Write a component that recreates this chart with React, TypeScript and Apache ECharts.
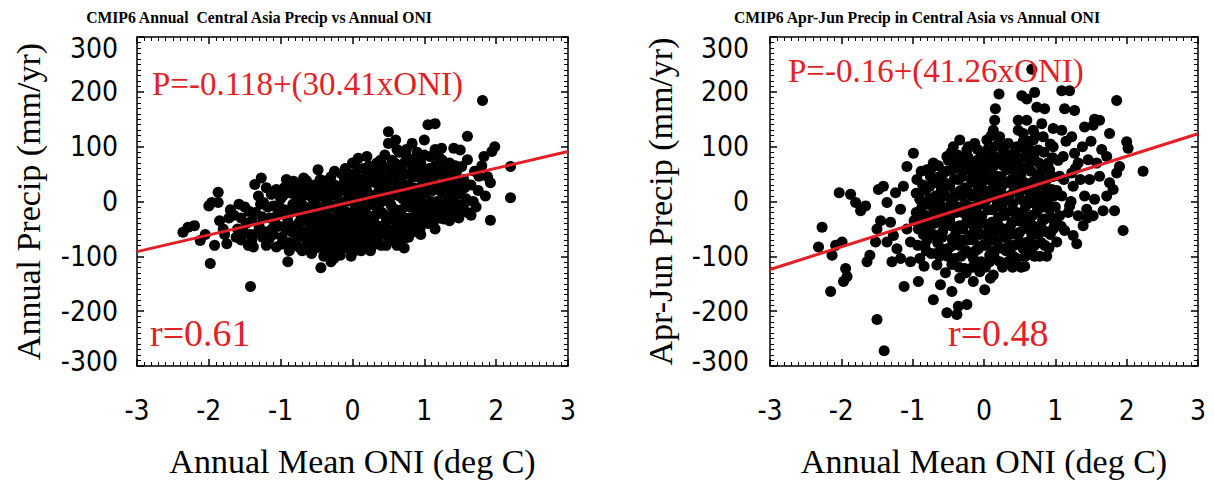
import React, { useEffect, useRef } from "react";
import * as echarts from "echarts";

// ---------- data ----------
const titles = [
  "CMIP6 Annual  Central Asia Precip vs Annual ONI",
  "CMIP6 Apr-Jun Precip in Central Asia vs Annual ONI",
];
const yTitles = ["Annual Precip (mm/yr)", "Apr-Jun Precip (mm/yr)"];
const xTitle = "Annual Mean ONI (deg C)";
const intercepts = [-0.118, -0.16];
const slopes = [30.41, 41.26];
const eqLabels = ["P=-0.118+(30.41xONI)", "P=-0.16+(41.26xONI)"];
const rLabels = ["r=0.61", "r=0.48"];
const xRange = [-3, 3];
const yRange = [-300, 300];

// Annual precip anomaly (mm/yr) vs annual ONI
const annualPoints: number[][] = [
  [-2.36,-56],[-2.29,-47],[-2.2,-44],[-2.12,-71],[-2.05,-60],[-2.0,-8],[-1.96,-2],[-1.98,-113],
  [-1.87,17],[-1.87,-2],[-1.92,-80],[-1.75,-77],[-1.8,-50],[-1.85,-35],[-1.72,-30],[-1.78,-60],[-1.7,-15],
  [-1.65,-25],[-1.6,-50],[-1.55,-70],[-1.5,-10],[-1.48,-40],[-1.45,-80],[-1.42,-155],[-1.42,-60],[-1.58,-5],[-1.62,-65],
  [-1.38,-83],[-1.36,31],[-1.31,10],[-1.27,43],[-1.35,-20],[-1.3,-45],[-1.25,-65],[-1.2,-80],[-1.15,-30],[-1.13,13],[-1.18,-10],[-1.22,-55],[-1.12,-50],[-1.28,-5],
  [-1.06,22],[-1.06,-83],[-0.92,40],[-0.82,37],[-1.0,5],[-0.95,-15],[-0.9,-35],[-0.85,-55],[-0.88,-75],[-1.02,-45],[-0.98,-65],[-0.9,-110],[-0.85,15],[-0.95,25],[-0.83,-5],[-1.05,-25],[-0.82,-80],
  [-0.68,43],[-0.75,30],[-0.7,15],[-0.78,0],[-0.65,-10],[-0.72,-25],[-0.6,-40],[-0.75,-50],[-0.66,-65],[-0.58,-80],[-0.7,-90],[-0.62,25],[-0.55,5],[-0.55,-20],[-0.52,-55],[-0.78,-70],[-0.57,-95],
  [-0.48,58],[-0.44,-121],[-0.45,40],[-0.4,20],[-0.48,10],[-0.35,0],[-0.42,-15],[-0.3,-30],[-0.45,-35],[-0.38,-50],[-0.28,-60],[-0.46,-70],[-0.35,-80],[-0.26,-104],[-0.3,45],[-0.25,30],[-0.22,10],[-0.32,-90],[-0.2,-45],[-0.22,-75],[-0.4,-100],
  [-0.17,-98],[-0.1,60],[0.0,70],[0.08,79],[-0.15,50],[-0.05,35],[0.05,45],[-0.12,20],[0.02,15],[-0.08,0],[0.06,-5],[-0.15,-15],[0.0,-25],[-0.1,-40],[0.08,-35],[-0.03,-55],[-0.15,-65],[0.05,-70],[-0.08,-85],[0.1,-55],[0.1,25],[-0.18,-30],[0.03,-90],
  [0.2,82],[0.34,70],[0.15,60],[0.25,50],[0.38,55],[0.12,40],[0.3,35],[0.2,20],[0.35,15],[0.15,5],[0.28,-5],[0.4,0],[0.18,-20],[0.32,-25],[0.22,-40],[0.38,-45],[0.15,-50],[0.28,-60],[0.2,-75],[0.35,-70],[0.25,-90],[0.4,-80],[0.12,-90],
  [0.5,127],[0.6,112],[0.5,106],[0.45,85],[0.55,75],[0.65,90],[0.42,65],[0.6,60],[0.5,45],[0.68,40],[0.45,30],[0.58,25],[0.65,10],[0.48,5],[0.55,-10],[0.68,-15],[0.45,-25],[0.6,-35],[0.5,-50],[0.65,-55],[0.55,-70],[0.45,-60],[0.62,-80],[0.7,-70],
  [0.83,106],[0.75,95],[0.88,80],[0.72,70],[0.85,60],[0.95,70],[0.78,50],[0.9,45],[0.72,30],[0.85,25],[0.97,30],[0.78,10],[0.92,5],[0.75,-5],[0.88,-15],[0.98,-10],[0.8,-30],[0.93,-35],[0.75,-45],[0.86,-55],[0.95,-60],[0.78,-65],[0.72,-85],
  [1.0,112],[1.05,140],[1.15,142],[1.24,97],[1.08,82],[1.15,65],[1.02,55],[1.25,75],[1.2,50],[1.08,35],[1.28,40],[1.12,20],[1.02,15],[1.25,15],[1.18,0],[1.05,-10],[1.28,-10],[1.1,-25],[1.22,-30],[1.27,-32],[1.05,-40],[1.15,-50],
  [1.41,97],[1.5,94],[1.52,64],[1.6,76],[1.35,70],[1.45,55],[1.38,40],[1.55,40],[1.42,25],[1.35,10],[1.5,15],[1.58,5],[1.45,-5],[1.52,-14],[1.38,-20],[1.6,-20],[1.48,-30],[1.6,119],[1.35,-35],
  [1.81,184],[1.83,82],[1.98,100],[1.94,91],[1.76,46],[1.92,34],[1.7,55],[1.65,30],[1.75,20],[1.68,0],[1.85,10],[1.72,-10],[1.92,-34],[2.2,64],[2.2,7],[1.8,65],[1.88,45],[1.65,-25],
  [-1.55,-30],[-1.52,-55],[-1.44,-18],[-1.4,-35],[-1.4,-70],[-1.33,-58],[-1.26,-28],[-1.24,-2],[-1.2,25],[-1.16,-68],[-1.1,-8],[-1.1,-60],[-1.08,-38],[-1.02,-10],[-0.99,-78],[-0.97,10],[-0.93,-50],[-0.92,-25],[-0.88,-90],[-0.87,25],[-0.86,-20],[-0.8,-45],[-0.79,-15],[-0.77,18],[-0.73,-85],[-0.72,5],[-0.7,-35],[-0.67,-55],[-0.64,38],[-0.63,-75],[-0.6,-20],[-0.59,10],[-0.56,-65],[-0.53,30],[-0.52,-5],[-0.5,-85],[-0.5,-40],[-0.47,-10],[-0.43,-55],[-0.42,30],[-0.4,-85],[-0.38,5],[-0.37,-25],[-0.33,-65],[-0.33,20],[-0.3,-110],[-0.28,-40],[-0.27,-8],[-0.25,55],[-0.24,-88],[-0.2,-55],[-0.19,25],[-0.18,-10],[-0.13,-80],[-0.12,-50],[-0.11,40],[-0.07,-20],[-0.06,-70],[-0.04,10],[-0.02,-100],[0.0,50],[0.02,-40],[0.04,-10],[0.07,-80],[0.08,60],[0.09,5],[0.12,-25],[0.13,-65],[0.14,25],[0.17,-40],[0.18,45],[0.2,-8],[0.22,-60],[0.23,65],[0.25,-28],[0.27,10],[0.28,-80],[0.3,55],[0.31,-45],[0.33,-10],[0.36,30],[0.37,-60],[0.39,75],[0.41,-20],[0.43,45],[0.44,-45],[0.47,-80],[0.48,20],[0.5,-30],[0.52,60],[0.53,-5],[0.57,-55],[0.58,45],[0.6,-15],[0.62,95],[0.63,-70],[0.64,30],[0.67,-40],[0.7,55],[0.7,5],[0.73,-30],[0.74,85],[0.76,-55],[0.77,30],[0.8,-10],[0.81,70],[0.83,-45],[0.84,45],[0.87,0],[0.9,-30],[0.9,90],[0.92,20],[0.94,-50],[0.96,50],[0.99,-25],[1.0,85],[1.03,-5],[1.04,30],[1.07,60],[1.1,0],[1.12,-40],[1.13,45],[1.15,95],[1.17,-15],[1.2,25],[1.22,60],[1.26,-20],[1.3,55],[1.32,0],[1.33,25],[1.4,-10],[1.43,65],[1.47,35],[1.55,-5],[1.56,25],
  [-0.76,-62],[-0.74,-38],[-0.69,-8],[-0.66,20],[-0.61,-58],[-0.58,-30],[-0.54,-42],[-0.51,18],[-0.49,-60],[-0.46,-22],[-0.41,-40],[-0.39,-70],[-0.36,38],[-0.34,-12],[-0.31,-52],[-0.29,12],[-0.26,-32],[-0.23,-62],[-0.21,-20],[-0.17,0],[-0.16,-45],[-0.14,30],[-0.09,-60],[-0.07,15],[-0.05,-35],[-0.01,-75],[0.01,30],[0.03,-58],[0.06,-22],[0.1,-40],[0.11,10],[0.14,-75],[0.16,-10],[0.19,30],[0.21,-50],[0.24,0],[0.26,40],[0.29,-35],[0.32,-70],[0.34,45],[0.37,-5],[0.4,-55],[0.42,15],[0.46,-40],[0.49,35],[0.51,-65],[0.54,10],[0.56,-25],[0.59,70],[0.61,-50],[0.63,45],[0.66,-30],[0.69,15],[0.71,-50],[0.74,50],[0.79,-45],[0.82,15],[0.86,-30],[0.89,60],[0.91,-10],[0.95,10],[0.97,-40],[1.01,40],[1.06,-25],[1.09,55],[1.11,-10],[1.14,30],[1.19,-30],[1.21,80],[1.24,-5],[1.3,30],[1.33,-20],[1.36,55],[1.44,10],[1.47,-20],
];

// Apr-Jun precip anomaly (mm/yr) vs annual ONI
const aprJunPoints: number[][] = [
  [-2.32,-83],[-2.27,-47],[-2.15,-164],[-2.13,-98],[-2.08,-80],[-2.03,16],[-1.99,-74],[-1.94,-122],[-1.92,-137],[-1.97,-146],
  [-1.87,13],[-1.8,-2],[-1.73,-17],[-1.66,-8],[-1.64,-110],[-1.6,-98],[-1.5,-50],[-1.52,-74],[-1.45,-35],[-1.5,-215],[-1.48,22],
  [-1.4,-272],[-1.41,28],[-1.36,-2],[-1.31,-38],[-1.27,-62],[-1.22,-86],[-1.17,-104],[-1.12,-155],[-1.08,64],[-0.99,88],[-1.24,16],[-1.17,-14],[-1.08,-50],[-1.03,-74],[-1.13,28],[-1.03,-110],[-1.36,-74],[-1.29,-110],
  [-0.92,-146],[-0.94,40],[-0.9,4],[-0.85,-26],[-0.92,-50],[-0.83,-80],[-0.9,-104],[-0.8,58],[-0.71,70],[-0.66,34],[-0.73,-8],[-0.62,-38],[-0.69,-62],[-0.59,-86],[-0.66,-116],[-0.71,-179],[-0.61,-152],[-0.55,10],[-0.57,52],[-0.76,28],[-0.8,-26],[-0.52,82],[-0.78,-56],
  [-0.45,-164],[-0.36,-191],[-0.52,-203],[-0.38,-206],[-0.24,-188],[-0.15,-146],[-0.43,100],[-0.34,112],[-0.24,94],[-0.13,106],[-0.45,58],[-0.34,70],[-0.2,58],[-0.08,76],[-0.48,28],[-0.36,40],[-0.24,22],[-0.13,34],[-0.43,-2],[-0.31,10],[-0.2,-14],[-0.08,4],[-0.48,-32],[-0.34,-44],[-0.22,-26],[-0.1,-50],[-0.45,-68],[-0.34,-80],[-0.2,-62],[-0.08,-86],[-0.41,-104],[-0.27,-122],[-0.15,-104],[-0.34,-140],[-0.06,-128],
  [0.01,-161],[0.21,196],[0.16,169],[0.15,148],[0.13,130],[0.04,112],[0.22,118],[0.34,106],[-0.01,88],[0.13,82],[0.27,88],[0.39,76],[0.04,58],[0.18,46],[0.32,58],[-0.03,34],[0.11,22],[0.25,28],[0.36,34],[0.04,4],[0.18,-8],[0.32,4],[-0.03,-26],[0.11,-38],[0.25,-26],[0.39,-38],[0.04,-62],[0.18,-74],[0.32,-56],[0.08,-98],[0.22,-110],[0.36,-92],[0.13,-134],
  [0.67,241],[0.53,193],[0.6,187],[0.71,199],[0.74,172],[0.85,169],[0.48,148],[0.6,148],[0.81,142],[0.55,124],[0.69,112],[0.83,118],[0.46,100],[0.6,88],[0.76,94],[0.5,64],[0.64,70],[0.81,58],[0.46,40],[0.6,28],[0.74,40],[0.85,28],[0.5,4],[0.67,-2],[0.81,10],[0.46,-20],[0.6,-32],[0.74,-20],[0.85,-32],[0.5,-56],[0.67,-62],[0.81,-50],[0.55,-86],[0.71,-80],[0.85,-80],[0.57,-118],[0.46,-104],
  [1.09,202],[1.2,202],[1.13,169],[1.27,166],[0.97,133],[1.09,130],[1.23,118],[0.97,100],[1.11,82],[1.27,88],[0.92,58],[1.06,46],[1.23,52],[1.32,70],[0.95,22],[1.09,10],[1.25,28],[0.92,-14],[1.06,-26],[1.2,-8],[1.32,-26],[0.97,-50],[1.13,-53],[1.25,-62],[1.3,-77],[1.02,-74],
  [1.41,136],[1.53,139],[1.62,148],[1.76,124],[1.86,184],[2.0,109],[2.02,97],[2.23,55],[1.95,-53],[1.83,-17],[1.67,-17],[1.53,-26],[1.46,76],[1.58,70],[1.72,82],[1.86,52],[1.9,64],[1.48,40],[1.62,46],[1.76,34],[1.41,10],[1.55,4],[1.72,10],[1.44,-14],[1.39,-44],[1.81,22],
  [-0.6,20],[-0.5,-10],[-0.4,60],[-0.3,-20],[-0.28,80],[-0.18,40],[-0.1,-10],[-0.05,60],[0.0,-40],[0.07,40],[0.1,-70],[0.15,100],[0.2,10],[0.27,-50],[0.3,70],[0.35,-80],[0.42,20],[0.45,-60],[0.52,50],[0.55,110],[0.58,-10],[0.65,-40],[0.7,80],[0.72,10],[0.78,-100],[0.8,-10],[0.9,70],[0.95,-30],[-0.7,-40],[-0.62,-100],[-0.25,-90],[0.02,-120],[0.4,-120],[-0.85,-60],[-0.95,-20],[0.62,20],[0.25,-10],[-0.15,-70],[-0.4,-60],[0.88,40],[1.0,-10],[0.1,120],[-0.22,80],[0.48,130],
  [-0.98,-35],[-0.95,15],[-0.93,-80],[-0.88,55],[-0.87,-10],[-0.84,-118],[-0.82,20],[-0.8,-70],[-0.77,-5],[-0.75,45],[-0.74,-95],[-0.72,-30],[-0.68,10],[-0.65,-75],[-0.64,65],[-0.6,-15],[-0.58,-55],[-0.56,35],[-0.54,-130],[-0.53,-30],[-0.5,75],[-0.49,-85],[-0.47,5],[-0.45,-115],[-0.44,-45],[-0.42,40],[-0.39,-20],[-0.37,85],[-0.36,-75],[-0.33,20],[-0.32,-100],[-0.3,-50],[-0.29,55],[-0.26,-5],[-0.25,-130],[-0.23,-70],[-0.21,70],[-0.19,-40],[-0.17,10],[-0.16,-120],[-0.14,55],[-0.12,-90],[-0.11,-25],[-0.09,95],[-0.07,20],[-0.05,-60],[-0.04,-110],[-0.02,45],[0.0,-5],[0.02,75],[0.03,-80],[0.06,-45],[0.07,10],[0.09,-140],[0.1,60],[0.12,-15],[0.14,-100],[0.16,30],[0.17,-55],[0.19,80],[0.2,-30],[0.23,-85],[0.24,45],[0.26,5],[0.28,-65],[0.29,100],[0.31,-20],[0.33,35],[0.34,-110],[0.37,-45],[0.38,60],[0.4,-5],[0.42,-80],[0.43,90],[0.44,45],[0.47,-35],[0.49,15],[0.51,-75],[0.52,80],[0.54,-20],[0.56,35],[0.58,-100],[0.6,110],[0.62,-50],[0.63,5],[0.66,55],[0.68,-25],[0.69,130],[0.71,-100],[0.73,25],[0.76,-60],[0.77,70],[0.79,0],[0.82,-35],[0.84,90],[0.87,-55],[0.89,15],[0.91,-85],[0.93,105],[0.96,45],[0.99,-40],[1.02,20],[1.04,75],[1.08,-45],[1.12,40],[1.15,110],[1.18,-20],[1.22,0],[1.28,60],[1.35,40],[1.38,100],[1.45,-30],[1.5,110],[1.55,150],[1.65,95],
  [-0.89,-40],[-0.86,30],[-0.81,-90],[-0.79,-45],[-0.76,5],[-0.74,60],[-0.71,-60],[-0.69,-20],[-0.67,-95],[-0.63,45],[-0.62,-5],[-0.59,-65],[-0.57,15],[-0.55,-45],[-0.53,55],[-0.51,-100],[-0.47,-20],[-0.46,90],[-0.44,-80],[-0.41,15],[-0.39,-50],[-0.38,70],[-0.35,-120],[-0.33,-10],[-0.31,45],[-0.28,-70],[-0.27,25],[-0.24,-35],[-0.22,100],[-0.2,-95],[-0.18,-10],[-0.16,70],[-0.14,-55],[-0.12,15],[-0.1,-115],[-0.08,50],[-0.06,-35],[-0.04,80],[-0.02,-80],[0.0,20],[0.02,-60],[0.05,95],[0.06,-15],[0.08,-110],[0.09,40],[0.12,-50],[0.14,65],[0.15,-90],[0.17,5],[0.2,105],[0.21,-45],[0.23,20],[0.26,-120],[0.27,65],[0.29,-25],[0.31,-90],[0.33,85],[0.35,10],[0.37,-60],[0.39,40],[0.41,-100],[0.43,-20],[0.45,70],[0.48,-60],[0.5,30],[0.52,-120],[0.53,100],[0.56,-40],[0.57,60],[0.59,-75],[0.62,0],[0.64,95],[0.66,-90],[0.68,35],[0.7,-45],[0.72,120],[0.75,-15],[0.78,50],[0.8,-75],[0.83,-10],[0.86,60],[0.88,-100],[0.9,0],[0.93,-60],[0.96,80],[0.98,10],
];

const panels = [annualPoints, aprJunPoints];

// ---------- styling ----------
const RED = "#e41f26";
const SANS = '"Liberation Sans Narrow", "Arial Narrow", "DejaVu Sans Condensed", sans-serif';
const SERIF = '"Liberation Serif", "Times New Roman", serif';

const grids = [
  { left: 137, top: 37, width: 431, height: 332 },
  { left: 770, top: 37, width: 428, height: 331 },
];

export default function App() {
  const ref = useRef<HTMLDivElement>(null);
  useEffect(() => {
    if (!ref.current) return;
    const chart = echarts.init(ref.current, undefined, { renderer: "svg" });

    const tickCommon = {
      axisLine: { show: true, onZero: false, lineStyle: { color: "#000", width: 1.5 } },
      axisTick: { show: true, inside: true, length: 7, lineStyle: { color: "#000", width: 1.5 } },
      minorTick: { show: true, splitNumber: 10, length: 4, lineStyle: { color: "#000", width: 1 } },
      splitLine: { show: false },
    };

    const xAxes: any[] = [];
    const yAxes: any[] = [];
    const yNameGaps = [92, 93];
    const yLabelMargins = [19, 21];
    panels.forEach((_, i) => {
      xAxes.push({
        gridIndex: i,
        type: "value",
        min: xRange[0],
        max: xRange[1],
        interval: 1,
        position: "bottom",
        ...tickCommon,
        axisLabel: { margin: 30, fontSize: 28, fontFamily: SANS, color: "#000" },
        name: xTitle,
        nameLocation: "middle",
        nameGap: 78,
        nameTextStyle: { fontFamily: SERIF, fontSize: 34, color: "#000" },
      });
      xAxes.push({
        gridIndex: i,
        type: "value",
        min: xRange[0],
        max: xRange[1],
        interval: 1,
        position: "top",
        ...tickCommon,
        axisLabel: { show: false },
      });
      yAxes.push({
        gridIndex: i,
        type: "value",
        min: yRange[0],
        max: yRange[1],
        interval: 100,
        position: "left",
        ...tickCommon,
        axisLabel: {
          margin: yLabelMargins[i],
          fontSize: 28,
          fontFamily: SANS,
          color: "#000",
          formatter: (v: number) =>
            v === yRange[1] ? `{top|${v}}` : v === yRange[0] ? `{bot|${v}}` : `${v}`,
          rich: {
            top: { fontSize: 28, fontFamily: SANS, color: "#000", padding: [22, 0, 0, 0] },
            bot: { fontSize: 28, fontFamily: SANS, color: "#000", padding: [0, 0, 10, 0] },
          },
        },
        name: yTitles[i],
        nameLocation: "middle",
        nameGap: yNameGaps[i],
        nameRotate: 90,
        nameTextStyle: { fontFamily: SERIF, fontSize: 34, color: "#000" },
      });
      yAxes.push({
        gridIndex: i,
        type: "value",
        min: yRange[0],
        max: yRange[1],
        interval: 100,
        position: "right",
        ...tickCommon,
        axisLabel: { show: false },
      });
    });

    const series: any[] = [];
    panels.forEach((pts, i) => {
      series.push({
        type: "scatter",
        xAxisIndex: i * 2,
        yAxisIndex: i * 2,
        data: pts,
        symbol: "circle",
        symbolSize: 11,
        itemStyle: { color: "#000", opacity: 1 },
        emphasis: { disabled: true },
        z: 2,
      });
      series.push({
        type: "line",
        xAxisIndex: i * 2,
        yAxisIndex: i * 2,
        data: xRange.map((x) => [x, intercepts[i] + slopes[i] * x]),
        showSymbol: false,
        symbol: "none",
        lineStyle: { color: RED, width: 3 },
        z: 3,
      });
    });

    const graphic: any[] = [
      { type: "text", x: 259, y: 17, style: { text: titles[0], font: `bold 15.7px ${SERIF}`, fill: "#000", align: "center", verticalAlign: "middle" } },
      { type: "text", x: 917, y: 17, style: { text: titles[1], font: `bold 15.7px ${SERIF}`, fill: "#000", align: "center", verticalAlign: "middle" } },
      { type: "text", x: 152, y: 84, z: 10, style: { text: eqLabels[0], font: `33px ${SERIF}`, fill: RED, align: "left", verticalAlign: "middle" } },
      { type: "text", x: 788, y: 71, z: 10, style: { text: eqLabels[1], font: `33px ${SERIF}`, fill: RED, align: "left", verticalAlign: "middle" } },
      { type: "text", x: 150, y: 333, z: 10, style: { text: rLabels[0], font: `38px ${SERIF}`, fill: RED, align: "left", verticalAlign: "middle" } },
      { type: "text", x: 948, y: 333, z: 10, style: { text: rLabels[1], font: `38px ${SERIF}`, fill: RED, align: "left", verticalAlign: "middle" } },
    ];

    chart.setOption({
      animation: false,
      backgroundColor: "#fff",
      grid: grids.map((g) => ({ ...g, containLabel: false })),
      xAxis: xAxes,
      yAxis: yAxes,
      series,
      graphic,
    });
    return () => chart.dispose();
  }, []);

  return (
    <div
      ref={ref}
      style={{ position: "absolute", left: 0, top: 0, width: 1214, height: 483 }}
    />
  );
}
